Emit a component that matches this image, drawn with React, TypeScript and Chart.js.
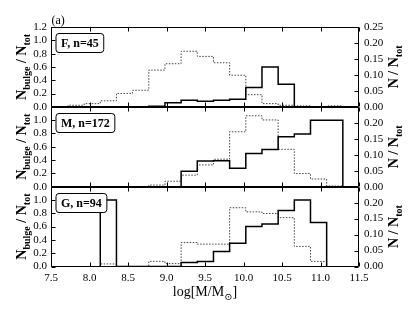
import React, { useEffect, useRef } from 'react';
import { Chart, registerables } from 'chart.js';

Chart.register(...registerables);

// ---- data ----
const binEdges = [7.72, 7.93, 8.14, 8.35, 8.56, 8.77, 8.98, 9.19, 9.40, 9.61, 9.82, 10.03, 10.24, 10.45, 10.66, 10.87, 11.08, 11.29];
const panelNames = ['F', 'M', 'G'];
const panelLabels = ['F, n=45', 'M, n=172', 'G, n=94'];

const bulgeF = [0, 0, 0, 0, 0, 0.01, 0.06, 0.10, 0.085, 0.10, 0.115, 0.29, 0.60, 0.34, 0, 0, 0];
const distF = [0.005, 0.010, 0.019, 0.042, 0.052, 0.115, 0.135, 0.174, 0.158, 0.138, 0.099, 0.038, 0.010, 0.005, 0.003, 0, 0.003];
const bulgeM = [0, 0, 0, 0, 0, 0, 0, 0.23, 0.385, 0.39, 0.275, 0.50, 0.56, 0.75, 0.79, 1.0, 1.0];
const distM = [0, 0, 0, 0, 0, 0.005, 0.017, 0.036, 0.068, 0.086, 0.172, 0.222, 0.209, 0.117, 0.041, 0.024, 0.002];
const bulgeG = [0, 0, 1.0, 0, 0, 0, 0, 0.062, 0.077, 0.226, 0.35, 0.60, 0.64, 0.84, 1.0, 0.66, 0];
const distG = [0, 0, 0.008, 0, 0, 0.016, 0.009, 0.075, 0.07, 0.07, 0.184, 0.171, 0.166, 0.153, 0.063, 0.016, 0];

const xMin = 7.5, xMax = 11.5, xStep = 0.5;
const leftMax = 1.2, leftStep = 0.2;
const rightMax = 0.25, rightStep = 0.05;

const FONT = '"Liberation Serif", "DejaVu Serif", serif';

function stepPoints(vals: number[]) {
  const first = vals.findIndex((v) => v > 0);
  let last = vals.length - 1;
  while (last > 0 && !(vals[last] > 0)) last--;
  const pts: { x: number; y: number }[] = [{ x: binEdges[first], y: 0 }];
  for (let k = first; k <= last; k++) pts.push({ x: binEdges[k], y: vals[k] });
  pts.push({ x: binEdges[last + 1], y: vals[last] });
  pts.push({ x: binEdges[last + 1], y: 0 });
  return pts;
}

type Part = { t: string; sub?: boolean };

function drawParts(ctx: CanvasRenderingContext2D, parts: Part[], cx: number, cy: number, rot: number, size: number, weight: string) {
  const mainFont = `${weight} ${size}px ${FONT}`;
  const subFont = `${weight} ${Math.round(size * 0.7)}px ${FONT}`;
  let total = 0;
  const widths = parts.map((p) => {
    ctx.font = p.sub ? subFont : mainFont;
    const w = ctx.measureText(p.t).width;
    total += w;
    return w;
  });
  ctx.save();
  ctx.translate(cx, cy);
  ctx.rotate(rot);
  ctx.textBaseline = 'alphabetic';
  ctx.textAlign = 'left';
  ctx.fillStyle = '#000';
  let x = -total / 2;
  parts.forEach((p, i) => {
    ctx.font = p.sub ? subFont : mainFont;
    ctx.fillText(p.t, x, p.sub ? size * 0.25 : 0);
    x += widths[i];
  });
  ctx.restore();
}

const framePlugin = {
  id: 'framePlugin',
  afterDraw(chart: any) {
    const ctx: CanvasRenderingContext2D = chart.ctx;
    const { left, right } = chart.chartArea;
    const xs = chart.scales.x;
    const L = Math.round(left) + 0.5;
    const R = Math.round(right) - 0.5;
    ctx.save();
    ctx.strokeStyle = '#000';
    ctx.lineWidth = 1;
    panelNames.forEach((p, i) => {
      const ys = chart.scales['y' + p];
      const rs = chart.scales['r' + p];
      const T = Math.round(ys.top) + 0.5;
      const B = Math.round(ys.bottom) - 0.5;
      ctx.beginPath();
      ctx.rect(L, T, R - L, B - T);
      xs.ticks.forEach((t: any) => {
        const px = Math.round(xs.getPixelForValue(t.value)) + 0.5;
        ctx.moveTo(px, T); ctx.lineTo(px, T + 4);
        ctx.moveTo(px, B); ctx.lineTo(px, B - 4);
      });
      ys.ticks.forEach((t: any) => {
        const py = Math.round(ys.getPixelForValue(t.value)) + 0.5;
        ctx.moveTo(L, py); ctx.lineTo(L + 4, py);
      });
      rs.ticks.forEach((t: any) => {
        const py = Math.round(rs.getPixelForValue(t.value)) + 0.5;
        ctx.moveTo(R, py); ctx.lineTo(R - 4, py);
      });
      ctx.stroke();

      // label box
      ctx.font = `bold 12px ${FONT}`;
      const tw = ctx.measureText(panelLabels[i]).width;
      const bx = L + 4.5, by = T + 6, bw = tw + 10, bh = 19;
      ctx.beginPath();
      (ctx as any).roundRect(bx, by, bw, bh, 3);
      ctx.fillStyle = '#fff';
      ctx.fill();
      ctx.stroke();
      ctx.fillStyle = '#000';
      ctx.textBaseline = 'middle';
      ctx.textAlign = 'left';
      ctx.fillText(panelLabels[i], bx + 5, by + bh / 2 + 1);

      // axis titles
      const cy = (ys.top + ys.bottom) / 2;
      drawParts(ctx, [{ t: 'N' }, { t: 'bulge', sub: true }, { t: ' / N' }, { t: 'tot', sub: true }], 26, cy, -Math.PI / 2, 14, 'bold');
      drawParts(ctx, [{ t: 'N / N' }, { t: 'tot', sub: true }], 398, cy, -Math.PI / 2, 14, 'bold');
    });
    // (a)
    ctx.font = `12px ${FONT}`;
    ctx.fillStyle = '#000';
    ctx.textBaseline = 'alphabetic';
    ctx.textAlign = 'left';
    ctx.fillText('(a)', L, chart.chartArea.top - 3);
    // x title
    drawParts(ctx, [{ t: 'log[M/M' }, { t: '⊙', sub: true }, { t: ']' }], (left + right) / 2, 296, 0, 14, 'normal');
    ctx.restore();
  },
};

export default function App() {
  const ref = useRef<HTMLCanvasElement | null>(null);
  useEffect(() => {
    if (!ref.current) return;
    const bulges = [bulgeF, bulgeM, bulgeG];
    const dists = [distF, distM, distG];
    const datasets: any[] = [];
    panelNames.forEach((p, i) => {
      datasets.push({
        label: 'bulge ' + p,
        data: stepPoints(bulges[i]),
        yAxisID: 'y' + p,
        stepped: 'before',
        borderColor: '#000',
        borderWidth: 1.5,
        pointRadius: 0,
        fill: false,
      });
    });
    panelNames.forEach((p, i) => {
      datasets.push({
        label: 'dist ' + p,
        data: stepPoints(dists[i]),
        yAxisID: 'r' + p,
        stepped: 'before',
        borderColor: '#444',
        borderWidth: 1,
        borderDash: [1.5, 1.5],
        pointRadius: 0,
        fill: false,
      });
    });

    const tickFont = { family: FONT, size: 11 };
    const leftAxis = (top: boolean) => ({
      type: 'linear',
      position: 'left',
      stack: 'left',
      stackWeight: 1,
      min: 0,
      max: leftMax,
      grid: { display: false, drawTicks: false },
      border: { display: false },
      ticks: {
        stepSize: leftStep,
        autoSkip: false,
        font: tickFont,
        color: '#000',
        padding: 4,
        callback: (v: number) => (!top && v > leftMax - 0.01 ? '' : v.toFixed(1)),
      },
      afterFit: (s: any) => { s.width = 51; },
    });
    const rightAxis = (top: boolean) => ({
      type: 'linear',
      position: 'right',
      stack: 'right',
      stackWeight: 1,
      min: 0,
      max: rightMax,
      grid: { display: false, drawTicks: false },
      border: { display: false },
      ticks: {
        stepSize: rightStep,
        autoSkip: false,
        font: tickFont,
        color: '#000',
        padding: 5,
        callback: (v: number) => (!top && v > rightMax - 0.001 ? '' : v.toFixed(2)),
      },
      afterFit: (s: any) => { s.width = 56; },
    });

    const chart = new Chart(ref.current, {
      type: 'line',
      data: { datasets },
      options: {
        animation: false,
        responsive: false,
        devicePixelRatio: 1,
        layout: { padding: { top: 27, left: 0, right: 0, bottom: 0 } },
        plugins: { legend: { display: false }, tooltip: { enabled: false } },
        scales: {
          x: {
            type: 'linear',
            position: 'bottom',
            min: xMin,
            max: xMax,
            grid: { display: false, drawTicks: false },
            border: { display: false },
            ticks: {
              stepSize: xStep,
              autoSkip: false,
              maxRotation: 0,
              font: tickFont,
              color: '#000',
              padding: 5,
              callback: (v: number) => v.toFixed(1),
            },
            afterFit: (s: any) => { s.height = 47.5; },
          },
          yG: leftAxis(false),
          yM: leftAxis(false),
          yF: leftAxis(true),
          rF: rightAxis(true),
          rM: rightAxis(false),
          rG: rightAxis(false),
        } as any,
      },
      plugins: [framePlugin],
    } as any);
    return () => chart.destroy();
  }, []);

  return (
    <div style={{ position: 'absolute', left: 0, top: 0, width: 415, height: 314, background: '#fff' }}>
      <canvas ref={ref} width={415} height={314} style={{ width: 415, height: 314, display: 'block' }} />
    </div>
  );
}
